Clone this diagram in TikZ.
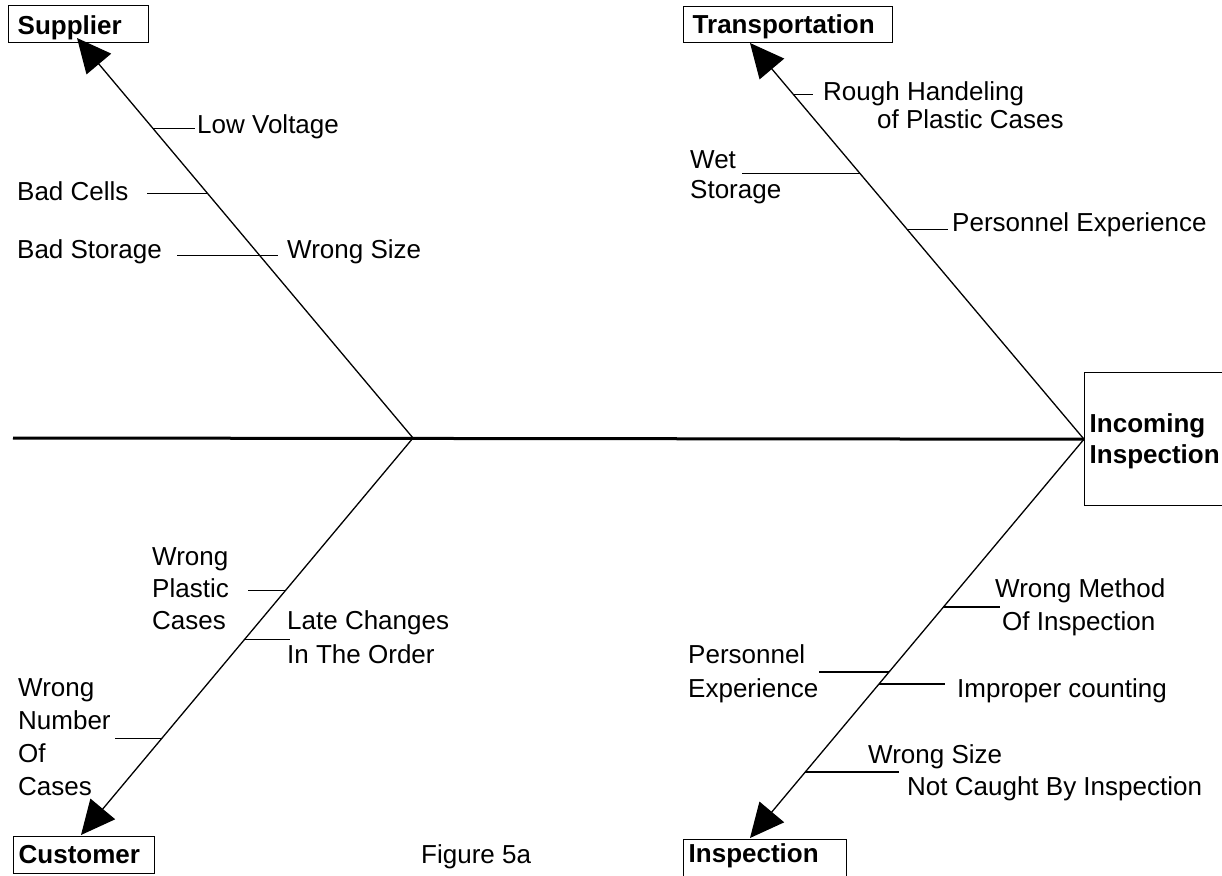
\documentclass[tikz,border=0pt]{standalone}
\usepackage{fontspec}
\setmainfont{Liberation Sans}
\usetikzlibrary{arrows.meta,calc}
\begin{document}
\begin{tikzpicture}[x=1pt,y=-1pt,
  lbl/.style={anchor=base west,inner sep=0pt,align=left,font=\fontsize{26}{#1}\selectfont},
  lbl/.default=32,
  catbox/.style={draw,line width=1.4pt,anchor=north west,inner ysep=0pt,align=left,
    font=\fontsize{26}{31}\selectfont\bfseries},
  bone/.style={line width=1.3pt,-{Triangle[length=34pt,width=32pt]}},
  rib/.style={line width=1.3pt},
  spine/.style={line width=3pt}]
\useasboundingbox (0,0) rectangle (1222,875);
\clip (0,0) rectangle (1222,875);

% category boxes
\node[catbox,inner xsep=9pt,text width=122pt,text height=29pt,text depth=8pt] (sup) at (8,5) {Supplier};
\node[catbox,inner xsep=9pt,text width=191pt,text height=27pt,text depth=9pt] (trn) at (683,6) {Transportation};
\node[catbox,inner xsep=5pt,text width=131pt,text height=27pt,text depth=10pt] (cus) at (13,836) {Customer};
\node[catbox,inner xsep=5pt,text width=153pt,text height=23pt,text depth=50pt] (ins) at (683,839) {Inspection};
\node[catbox,inner xsep=5pt,text width=170pt,text height=60pt,text depth=73pt] (inc) at (1084,372) {Incoming\\Inspection};

% spine and junctions
\coordinate (sL) at (13,438);
\coordinate (jL) at (413,438);
\draw[spine] (sL) -- (inc.west);

% arrow tips of the main bones
\coordinate (tS) at (77,38);
\coordinate (tT) at (750,43);
\coordinate (tC) at (81,835);
\coordinate (tI) at (750,838);

\draw[bone] (jL) -- (tS);
\draw[bone] (inc.west) -- (tT);
\draw[bone] (jL) -- (tC);
\draw[bone] (inc.west) -- (tI);

% points where the causes meet the bones
\path (jL) -- (tS) coordinate[pos=0.7731] (a1) coordinate[pos=0.6110] (a2) coordinate[pos=0.4564] (a3);
\path (inc.west) -- (tT) coordinate[pos=0.8709] (b1) coordinate[pos=0.6709] (b2) coordinate[pos=0.5291] (b3);
\path (jL) -- (tC) coordinate[pos=0.3838] (c1) coordinate[pos=0.5076] (c2) coordinate[pos=0.7576] (c3);
\path (inc.west) -- (tI) coordinate[pos=0.4211] (d1) coordinate[pos=0.5840] (d2) coordinate[pos=0.6140] (d3) coordinate[pos=0.8346] (d4);

% Supplier causes
\draw[rib] (a1) -- (a1 -| 195,0);
\draw[rib] (a2) -- (a2 -| 147,0);
\draw[rib] (a3) -- (a3 -| 177,0);
\draw[rib] (a3) -- (a3 -| 278,0);
\node[lbl] (lv) at (197,133) {Low Voltage};
\node[lbl] (bc) at (17,200) {Bad Cells};
\node[lbl] (bs) at (17,258) {Bad Storage};
\node[lbl] (ws) at (287,258) {Wrong Size};

% Transportation causes (multi-line labels sit on the baseline of their last line)
\draw[rib] (b1) -- (b1 -| 813,0);
\draw[rib] (b2) -- (b2 -| 742,0);
\draw[rib] (b3) -- (b3 -| 948,0);
\node[lbl=28] (rh) at (823,128) {Rough Handeling\\\hspace*{54pt}of Plastic Cases};
\node[lbl=30] (wet) at (690,198) {Wet\\Storage};
\node[lbl] (pe) at (952,231) {Personnel Experience};

% Customer causes
\draw[rib] (c1) -- (c1 -| 248,0);
\draw[rib] (c2) -- (c2 -| 290,0);
\draw[rib] (c3) -- (c3 -| 115,0);
\node[lbl] (wpc) at (152,629) {Wrong\\Plastic\\Cases};
\node[lbl=34] (lc) at (287,663) {Late Changes\\In The Order};
\node[lbl=32.7] (wn) at (18,795) {Wrong\\Number\\Of\\Cases};

% Inspection causes
\draw[rib] (d1) -- (d1 -| 1000,0);
\draw[rib] (d2) -- (d2 -| 819,0);
\draw[rib] (d3) -- (d3 -| 945,0);
\draw[rib] (d4) -- (d4 -| 899,0);
\node[lbl=33] (wm) at (995,630) {Wrong Method\\\hspace*{7pt}Of Inspection};
\node[lbl=34] (pe2) at (688,697) {Personnel\\Experience};
\node[lbl] (ic) at (957,697) {Improper counting};
\node[lbl] (wsn) at (868,795) {Wrong Size\\\hspace*{39pt}Not Caught By Inspection};

% caption
\node[lbl] (fig) at (421,863) {Figure 5a};
\end{tikzpicture}
\end{document}
